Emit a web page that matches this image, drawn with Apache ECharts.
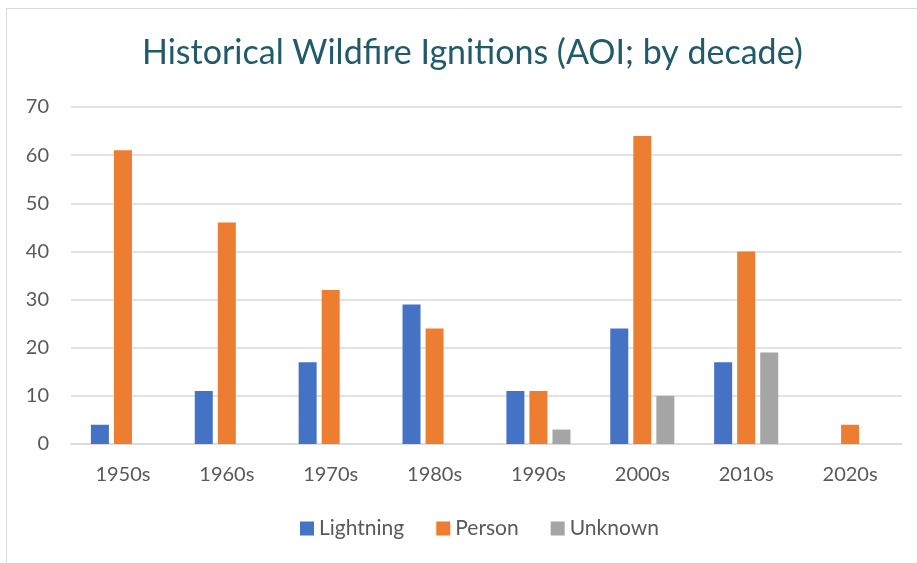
<!DOCTYPE html>
<html><head><meta charset="utf-8">
<script src="https://cdn.jsdelivr.net/npm/echarts@6/dist/echarts.min.js"></script>
<style>html,body{margin:0;padding:0;background:#fff}#c{width:917px;height:563px}</style>
</head><body><div id="c"></div>
<script>
var categories = ['1950s','1960s','1970s','1980s','1990s','2000s','2010s','2020s'];
var lightning = [4, 11, 17, 29, 11, 24, 17, 0];
var person = [61, 46, 32, 24, 11, 64, 40, 4];
var unknown = [0, 0, 0, 0, 3, 10, 19, 0];
var yTicks = {min: 0, max: 70, interval: 10};

var chart = echarts.init(document.getElementById('c'), null, {renderer: 'canvas'});
var font = 'Lato, "Open Sans", sans-serif';
function bar(name, data, color) {
  return {name: name, type: 'bar', data: data, barWidth: 18, barGap: '28%',
    itemStyle: {color: color}};
}
chart.setOption({
  animation: false,
  graphic: [{type: 'rect', shape: {x: 6.5, y: 8.5, width: 1000, height: 1000},
    style: {fill: 'none', stroke: '#d9d9d9', lineWidth: 1}, silent: true}],
  title: {text: 'Historical Wildfire Ignitions (AOI; by decade)', left: 137, top: 31,
    textStyle: {color: '#215A6A', fontSize: 34, fontWeight: 'normal', fontFamily: font}},
  legend: {bottom: 19, left: 295, itemWidth: 14, itemHeight: 14, itemGap: 32,
    icon: 'rect', textStyle: {color: '#595959', fontSize: 21, fontFamily: font}},
  grid: {left: 71, right: 15, top: 107, bottom: 119},
  xAxis: {type: 'category', data: categories,
    axisLine: {lineStyle: {color: '#d9d9d9', width: 1.5}}, axisTick: {show: false},
    axisLabel: {color: '#595959', fontSize: 20, fontFamily: font, margin: 21}},
  yAxis: {type: 'value', min: yTicks.min, max: yTicks.max, interval: yTicks.interval,
    axisLine: {show: false}, axisTick: {show: false},
    splitLine: {lineStyle: {color: '#d9d9d9', width: 1.5}},
    axisLabel: {color: '#595959', fontSize: 20, fontFamily: font, margin: 22}},
  series: [bar('Lightning', lightning, '#4472C4'), bar('Person', person, '#ED7D31'), bar('Unknown', unknown, '#A5A5A5')]
});
</script></body></html>
